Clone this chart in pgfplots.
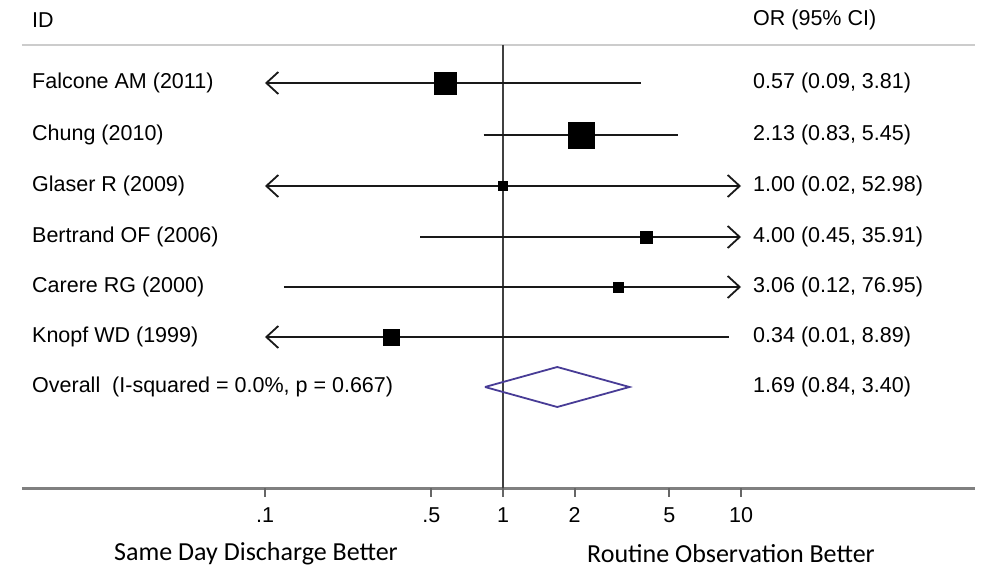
\documentclass[border=0pt]{standalone}
\usepackage{fontspec}
\setmainfont{Liberation Sans}
\newfontfamily\carlito{Carlito}
\usepackage{pgfplots}
\pgfplotsset{compat=1.18}
\usepackage{pgfplotstable}
\usetikzlibrary{arrows.meta}

\definecolor{diam}{RGB}{72,60,150}
\tikzset{Ba/.tip={Straight Barb[length=12pt,width=22pt,line width=1.8pt]}}

% y = minus the row position, or = point estimate, sz = half side of the square
\pgfplotstableread{
y    or   sz
-83  0.57 11
-135 2.13 13
-186 1.00 4.5
-237 4.00 6
-287 3.06 5
-337 0.34 8
}\studies

\newcommand{\lab}{\fontsize{21.5}{26}\selectfont}

\begin{document}
\begin{tikzpicture}
\useasboundingbox (0pt,0pt) rectangle (990pt,-569pt);
\begin{axis}[
  at={(22pt,-488pt)}, anchor=south west,
  scale only axis, width=953pt, height=443pt,
  xmode=log, xmin=0.009528, xmax=96.2,
  ymin=-488, ymax=-45,
  hide y axis,
  axis x line*=bottom,
  every outer x axis line/.append style={black!50, line width=3pt},
  xtick={0.1,0.5,1,2,5,10}, xticklabels={.1,.5,1,2,5,10},
  minor x tick num=0, major tick length=0pt,
  xticklabel style={font=\lab, text=black, yshift=-16pt},
  /pgf/number format/assume math mode=true,
  clip=false,
  ci/.style={black!90, line width=1.8pt},
]
% top rule
\draw[black!20, line width=2pt] (rel axis cs:0,1) -- (rel axis cs:1,1);
% tick marks below the axis line
\pgfplotsinvokeforeach{0.1,0.5,1,2,5,10}{
  \draw[black!60, line width=1.8pt] (axis cs:#1,-488) -- ++(0pt,-9pt);
}
% line of no effect
\addplot[black!75, line width=1.8pt] coordinates {(1,-45) (1,-488)};

% confidence intervals (cut at .1 and 10)
\addplot[ci, Ba-] coordinates {(0.1,-83) (3.81,-83)};
\addplot[ci] coordinates {(0.83,-135) (5.45,-135)};
\addplot[ci, Ba-Ba] coordinates {(0.1,-186) (10,-186)};
\addplot[ci, -Ba] coordinates {(0.45,-237) (10,-237)};
\addplot[ci, -Ba] coordinates {(0.12,-287) (10,-287)};
\addplot[ci, Ba-] coordinates {(0.1,-337) (8.89,-337)};

% study weights as squares
\addplot[scatter, only marks, mark=square*,
  scatter/use mapped color={draw=black, fill=black},
  visualization depends on={\thisrow{sz} \as \msz},
  scatter/@pre marker code/.append style={/tikz/mark size=\msz pt}]
  table[x=or, y=y] {\studies};

% pooled estimate
\addplot[diam, line width=1.8pt] coordinates
  {(0.84,-387) (1.69,-367) (3.40,-387) (1.69,-407) (0.84,-387)};
\end{axis}

\begin{scope}[x=1pt, y=-1pt, every node/.style={text=black, inner sep=0pt, anchor=west, font=\lab}]
\node at (32,20) {ID};
\node at (753,20) {OR (95\% CI)};
\node at (32,83)  {Falcone AM (2011)};
\node at (32,135) {Chung (2010)};
\node at (32,186) {Glaser R (2009)};
\node at (32,237) {Bertrand OF (2006)};
\node at (32,287) {Carere RG (2000)};
\node at (32,337) {Knopf WD (1999)};
\node at (32,387) {Overall\ \ (I-squared = 0.0\%, p = 0.667)};
\node at (753,83)  {0.57 (0.09, 3.81)};
\node at (753,135) {2.13 (0.83, 5.45)};
\node at (753,186) {1.00 (0.02, 52.98)};
\node at (753,237) {4.00 (0.45, 35.91)};
\node at (753,287) {3.06 (0.12, 76.95)};
\node at (753,337) {0.34 (0.01, 8.89)};
\node at (753,387) {1.69 (0.84, 3.40)};
\node[anchor=center, font=\carlito\fontsize{26}{30}\selectfont] at (256,554) {Same Day Discharge Better};
\node[anchor=center, font=\carlito\fontsize{26}{30}\selectfont] at (731,554) {Routine Observation Better};
\end{scope}
\end{tikzpicture}
\end{document}
